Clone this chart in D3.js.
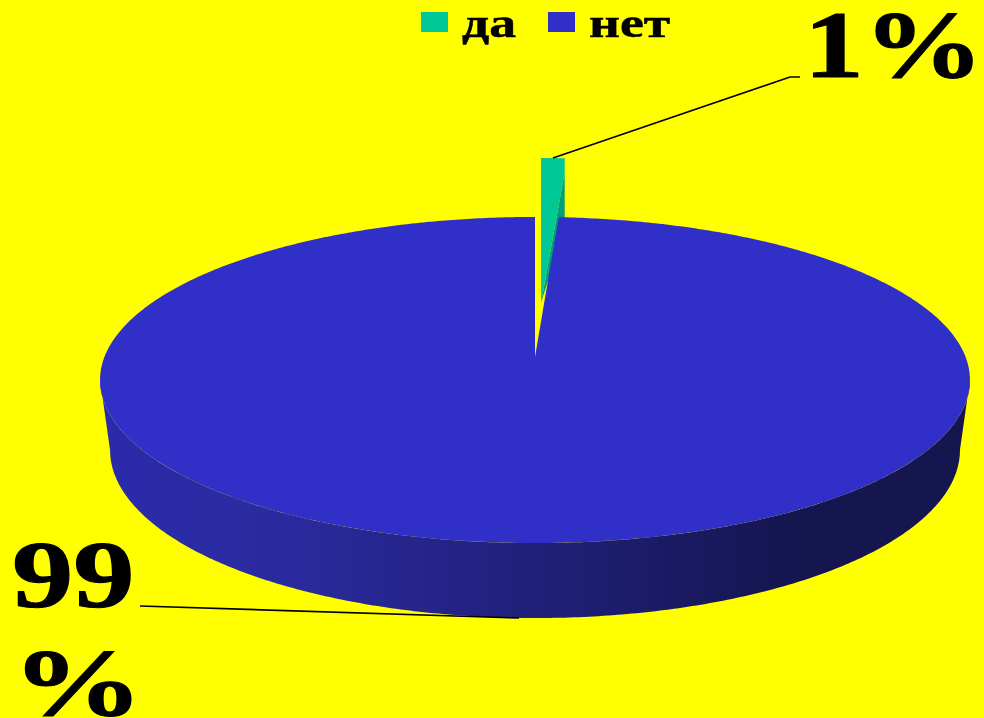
<!DOCTYPE html>
<html>
<head>
<meta charset="utf-8">
<script src="https://cdn.jsdelivr.net/npm/d3@7"></script>
<style>
  html, body { margin: 0; padding: 0; background: #ffff00; overflow: hidden; }
  text { font-family: "Liberation Serif", serif; font-weight: bold; fill: #000; }
</style>
</head>
<body>
<div id="chart"></div>
<script>
var categories = ["да", "нет"];
var values = [1, 99];
var sliceLabels = ["1%", "99%"];
var colors = ["#00c896", "#3030c8"];

var svgWidth = 984;
var svgHeight = 718;

var svg = d3.select("#chart").append("svg")
  .attr("width", svgWidth)
  .attr("height", svgHeight)
  .style("display", "block");

var color = d3.scaleOrdinal().domain(categories).range(colors);

// the pie is tilted with perspective, so its centre sits above the middle of the ellipse
var cx = 535, cy = 357;
var k = -0.141, ay = 159.8, ax = 430.6;

function project(r, angle, drop, shift) {
  var u = r * Math.sin(angle), v = -r * Math.cos(angle);
  var w = 1 + k * v;
  return [cx + (shift || 0) + ax * u / w, cy + (drop || 0) + ay * v / w];
}

function arcPoints(start, end, drop, shift) {
  var n = Math.max(2, Math.ceil((end - start) / 0.01));
  return d3.range(n + 1).map(function(i) {
    return project(1, start + (end - start) * i / n, drop, shift);
  });
}

// bottom rim is a slightly narrower and rounder copy of the top rim
function toBottom(p) {
  return [cx + (p[0] - cx) * 425 / 435, 450 + (p[1] - 380) * 168 / 163];
}

var line = d3.line();
var arcs = d3.pie().sort(null)(values);
var da = arcs[0], net = arcs[1];

// small slice, pulled out and up. drawn first, the big slice covers its lower part
var lift = -59, push = 6;
var tip = project(0, 0, lift + 5, push);
var start = project(1, da.startAngle, lift, push);
var end = project(1, da.endAngle, lift, push);

svg.append("path")
  .attr("d", line([tip, [end[0], end[1] + 14], [end[0], end[1] + 70]]) + "Z")
  .attr("fill", "#00a078");
svg.append("path")
  .attr("d", line([tip, start, end, [end[0], end[1] + 14]]) + "Z")
  .attr("fill", color("да"));

// side wall, darker to the right
var grad = svg.append("defs").append("linearGradient")
  .attr("id", "wall").attr("gradientUnits", "userSpaceOnUse")
  .attr("x1", 100).attr("x2", 970).attr("y1", 0).attr("y2", 0);
[[0, "#2b2bab"], [0.22, "#2a2a9e"], [0.5, "#20207a"], [0.8, "#15154f"], [1, "#15154f"]].forEach(function(s) {
  grad.append("stop").attr("offset", s[0]).attr("stop-color", s[1]);
});

var frontStart = Math.acos(k), frontEnd = 2 * Math.PI - Math.acos(k);
var rim = arcPoints(frontStart, frontEnd);
svg.append("path")
  .attr("d", line(rim.concat(rim.map(toBottom).reverse())) + "Z")
  .attr("fill", "url(#wall)");

// top of the big slice
svg.append("path")
  .attr("d", line([project(0, 0)].concat(arcPoints(net.startAngle, net.endAngle))) + "Z")
  .attr("fill", color("нет"));

// leader lines
var leaders = [
  [[553, 158], [790, 77], [800, 77]],
  [[140, 606], [519, 618]]
];
svg.selectAll(".leader").data(leaders).enter().append("path")
  .attr("class", "leader")
  .attr("d", line)
  .attr("fill", "none")
  .attr("stroke", "#000")
  .attr("stroke-width", 1.6);

function stretched(x, y, sx, txt) {
  svg.append("text")
    .attr("transform", "translate(" + x + "," + y + ") scale(" + sx + ",1)")
    .attr("font-size", 95)
    .attr("stroke", "#000")
    .attr("stroke-width", 1)
    .text(txt);
}

stretched(804, 77, 1.26, sliceLabels[0]);
stretched(12, 607, 1.29, sliceLabels[1].slice(0, 2));
stretched(12, 715, 1.38, sliceLabels[1].slice(2));

// legend
var legendX = d3.scaleOrdinal().domain(categories).range([421, 548]);
var legend = svg.selectAll(".legend").data(categories).enter().append("g")
  .attr("class", "legend");
legend.append("rect")
  .attr("x", function(d) { return legendX(d); })
  .attr("y", 12)
  .attr("width", 27)
  .attr("height", 20)
  .attr("fill", function(d) { return color(d); });
legend.append("text")
  .attr("transform", function(d) { return "translate(" + (legendX(d) + 41) + ",37) scale(1.25,1)"; })
  .attr("font-size", 43)
  .attr("stroke", "#000")
  .attr("stroke-width", 0.5)
  .text(function(d) { return d; });
</script>
</body>
</html>
